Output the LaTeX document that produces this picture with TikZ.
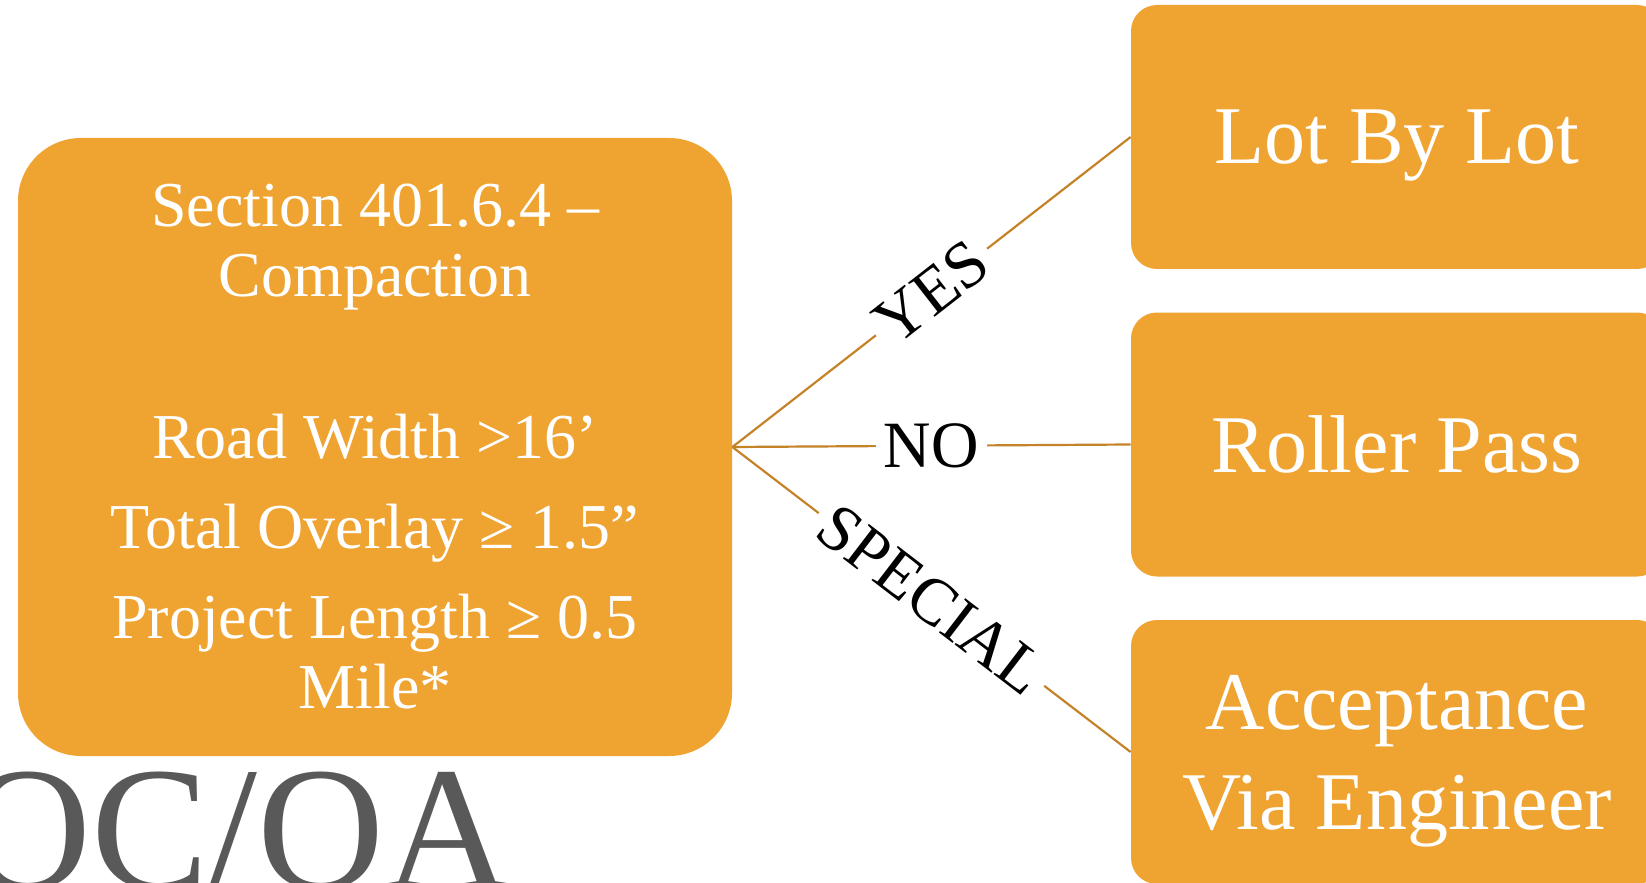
\documentclass[tikz,border=0pt]{standalone}
\usepackage{fontspec}
\setmainfont{Liberation Serif}
\usepackage{xcolor}
\usetikzlibrary{positioning}
\definecolor{boxorange}{RGB}{239,163,49}
\definecolor{linkgold}{RGB}{196,131,40}
\definecolor{titlegray}{RGB}{89,89,89}

\begin{document}
\begin{tikzpicture}[
    x=0.5pt, y=-0.5pt,
    box/.style={rectangle, fill=boxorange, text=white, align=center},
    mainbox/.style={box, minimum width=357pt, minimum height=309pt, rounded corners=31.5pt, font=\fontsize{32}{35}\selectfont},
    pickbox/.style={box, minimum width=266pt, minimum height=132pt, rounded corners=13pt, font=\fontsize{41}{50}\selectfont, text depth=0pt},
    link/.style={draw=linkgold, line width=1.1pt},
    choice/.style={fill=white, text=black, sloped, inner xsep=4pt, inner ysep=1pt, font=\fontsize{33}{36}\selectfont},
]

% Frame
\useasboundingbox (0,0) rectangle (1646,883);
\clip (0,0) rectangle (1646,883);

% --- CONDITION ---
\node[mainbox] (compaction) at (375,447) {
    Section 401.6.4 –\\
    Compaction\\[46pt]
    Road Width >16’\\[10pt]
    Total Overlay ≥ 1.5”\\[10pt]
    Project Length ≥ 0.5\\
    Mile*
};

% --- OUTCOMES ---
\node[pickbox] (lot) at (1397,137) {Lot By Lot};
\node[pickbox] (roller) at (1397,444.5) {Roller Pass};
\node[pickbox] (acceptance) at (1397,752) {Acceptance\\Via Engineer};

% Slide title
\node[font=\fontsize{88}{88}\selectfont, text=titlegray, anchor=base west, inner sep=0pt] (qcqa) at (-36,888) {QC/QA};

% Branches
\draw[link] (compaction.east) -- node[choice] {YES} (lot.west);
\draw[link] (compaction.east) -- node[choice] {NO} (roller.west);
\draw[link] (compaction.east) -- node[choice] {SPECIAL} (acceptance.west);

\end{tikzpicture}
\end{document}
